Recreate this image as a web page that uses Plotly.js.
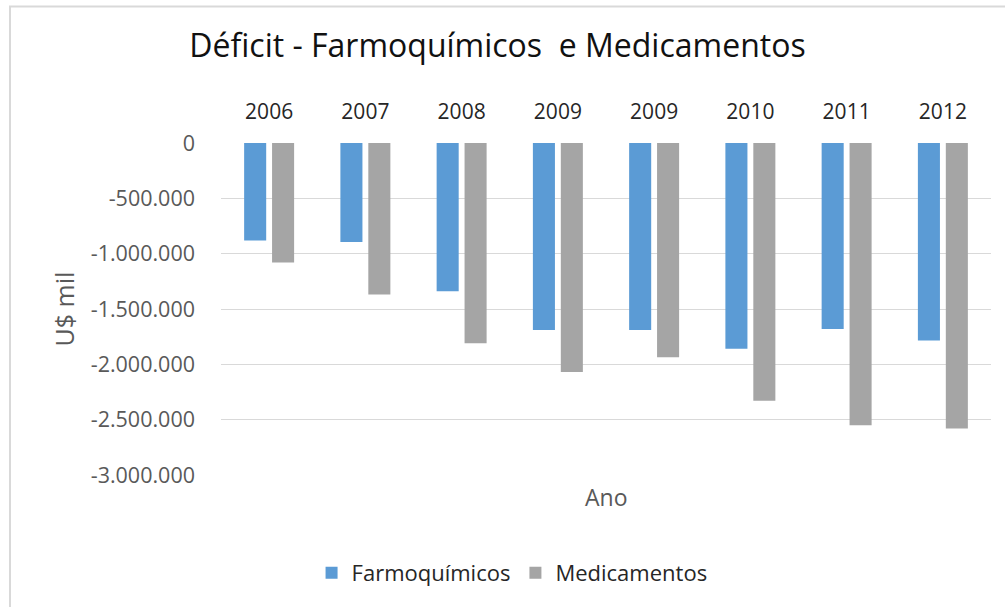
<!DOCTYPE html>
<html>
<head>
<meta charset="utf-8">
<script src="https://cdn.plot.ly/plotly-3.0.1.min.js"></script>
<style>
  html, body { margin: 0; padding: 0; background: #ffffff; }
  #chart { width: 1005px; height: 607px; }
</style>
</head>
<body>
<div id="chart"></div>
<script>
// Category labels (note: the source chart repeats "2009")
const anos = ["2006", "2007", "2008", "2009", "2009", "2010", "2011", "2012"];
// Déficit values, US$ mil
const farmoquimicos = [-880000, -895000, -1340000, -1690000, -1690000, -1860000, -1680000, -1785000];
const medicamentos  = [-1080000, -1370000, -1810000, -2070000, -1935000, -2330000, -2550000, -2580000];
// Y axis ticks
const yTickVals = [0, -500000, -1000000, -1500000, -2000000, -2500000, -3000000];
const yTickText = ["0", "-500.000", "-1.000.000", "-1.500.000", "-2.000.000", "-2.500.000", "-3.000.000"];

const xPos = anos.map((_, i) => i);
const FONT = "Open Sans, Liberation Sans, sans-serif";

const traces = [
  {
    type: "bar", name: "Farmoquímicos", x: xPos, y: farmoquimicos,
    marker: { color: "#5B9BD5" }, hoverinfo: "y+name"
  },
  {
    type: "bar", name: "Medicamentos", x: xPos, y: medicamentos,
    marker: { color: "#A5A5A5" }, hoverinfo: "y+name"
  }
];

const layout = {
  width: 1005, height: 607,
  paper_bgcolor: "#ffffff", plot_bgcolor: "#ffffff",
  margin: { l: 221, r: 14, t: 143, b: 132 },
  barmode: "group", bargap: 0.42, bargroupgap: 0.21,
  showlegend: true,
  title: {
    text: "Déficit - Farmoquímicos  e Medicamentos",
    font: { family: FONT, size: 32, color: "#111111" },
    x: 0.495, xanchor: "center", y: 0.925, yanchor: "middle"
  },
  xaxis: {
    side: "top", range: [-0.5, 7.5],
    tickvals: xPos, ticktext: anos, ticks: "",
    ticklabelstandoff: 19,
    tickfont: { family: FONT, size: 21, color: "#262626" },
    showgrid: false, zeroline: false, showline: false, fixedrange: true
  },
  yaxis: {
    range: [-3000000, 0], tickvals: yTickVals, ticktext: yTickText,
    ticks: "", ticklabelstandoff: 25,
    tickfont: { family: FONT, size: 21.5, color: "#595959" },
    showgrid: true, gridcolor: "#d9d9d9", gridwidth: 1,
    zeroline: false, showline: false, fixedrange: true,
    title: { text: "U$ mil", standoff: 8, font: { family: FONT, size: 25, color: "#595959" } }
  },
  legend: {
    orientation: "h", x: 0.378, xanchor: "center", y: -0.295, yanchor: "middle",
    font: { family: FONT, size: 22, color: "#262626" },
    itemwidth: 30, tracegroupgap: 0, traceorder: "normal"
  },
  annotations: [
    {
      text: "Ano", xref: "paper", yref: "paper", x: 0.5, y: 0,
      yshift: -22, xanchor: "center", yanchor: "middle", showarrow: false,
      font: { family: FONT, size: 23, color: "#595959" }
    },
    {
      text: "<b>Figura 1 - Déficit na balança comercial de medicamentos e farmoquímicos</b>",
      xref: "paper", yref: "paper", x: 0.397, y: 1, yshift: 141,
      xanchor: "center", yanchor: "bottom", showarrow: false,
      font: { family: "Liberation Serif, serif", size: 25, color: "#000000" }
    }
  ],
  shapes: [
    {
      type: "rect", xref: "paper", yref: "paper",
      x0: -0.274, x1: 1.2, y0: -0.6, y1: 1.4113,
      line: { color: "#d9d9d9", width: 2 }, fillcolor: "rgba(0,0,0,0)", layer: "below"
    }
  ]
};

Plotly.newPlot("chart", traces, layout, { displayModeBar: false, staticPlot: true });
</script>
</body>
</html>
